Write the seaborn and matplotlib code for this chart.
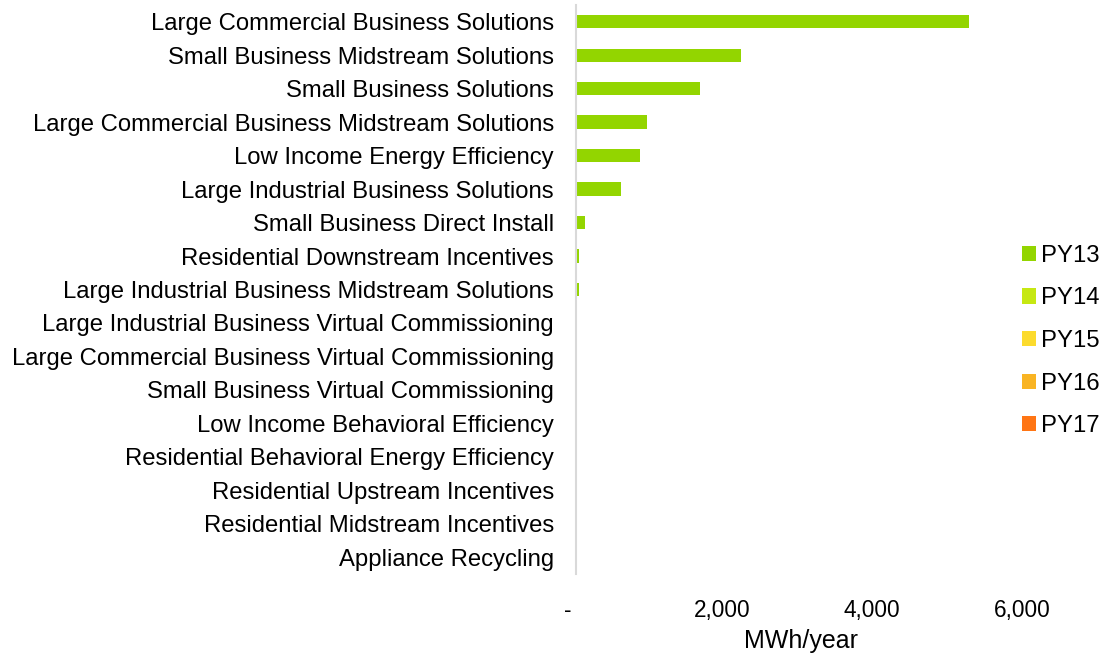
import matplotlib.pyplot as plt
import matplotlib.ticker as mticker
import matplotlib.transforms as mtransforms
import pandas as pd
import seaborn as sns

programs = [
    "Large Commercial Business Solutions",
    "Small Business Midstream Solutions",
    "Small Business Solutions",
    "Large Commercial Business Midstream Solutions",
    "Low Income Energy Efficiency",
    "Large Industrial Business Solutions",
    "Small Business Direct Install",
    "Residential Downstream Incentives",
    "Large Industrial Business Midstream Solutions",
    "Large Industrial Business Virtual Commissioning",
    "Large Commercial Business Virtual Commissioning",
    "Small Business Virtual Commissioning",
    "Low Income Behavioral Efficiency",
    "Residential Behavioral Energy Efficiency",
    "Residential Upstream Incentives",
    "Residential Midstream Incentives",
    "Appliance Recycling",
]
years = ["PY13", "PY14", "PY15", "PY16", "PY17"]

py13 = [5240, 2200, 1650, 945, 855, 605, 120, 45, 45, 0, 0, 0, 0, 0, 0, 0, 0]
py14 = [0] * 17
py15 = [0] * 17
py16 = [0] * 17
py17 = [0] * 17

colors = ["#93D500", "#C6E812", "#FCDB2D", "#F9B423", "#FF7514"]

# long table for seaborn
rows = []
for yr, vals in zip(years, [py13, py14, py15, py16, py17]):
    for p, v in zip(programs, vals):
        rows.append({"program": p, "year": yr, "value": v})
df = pd.DataFrame(rows)

sns.set_style("white")
plt.rcParams['font.family'] = ['Liberation Sans', 'DejaVu Sans']
plt.rcParams['text.color'] = 'black'
plt.rcParams['xtick.color'] = 'black'
plt.rcParams['ytick.color'] = 'black'
plt.rcParams['axes.labelcolor'] = 'black'

fig = plt.figure(figsize=(11, 6.54), dpi=100)
ax = fig.add_axes([576/1100, 80/654, 450/1100, 569/654])

sns.barplot(data=df, x="value", y="program", hue="year", order=programs,
            hue_order=years, palette=colors, saturation=1, dodge=False,
            width=0.4, linewidth=0, ax=ax)

ax.set_xlim(0, 6000)
ax.set_xticks([0, 2000, 4000, 6000])
ax.xaxis.set_major_formatter(mticker.FuncFormatter(
    lambda v, p: "-" if v == 0 else f"{v:,.0f}"))
ax.tick_params(axis='x', labelsize=16.3, length=0, pad=18)
ax.tick_params(axis='y', labelsize=17.2, length=0, pad=16)
ax.set_ylabel("")
ax.set_xlabel("MWh/year", fontsize=18, labelpad=5)

# excel-style accounting labels sit a bit left of the tick
for i, lab in enumerate(ax.get_xticklabels()):
    dx = -8 if i == 0 else -4
    lab.set_transform(lab.get_transform() +
                      mtransforms.ScaledTranslation(dx/100, 0, fig.dpi_scale_trans))

for s in ["top", "right", "bottom"]:
    ax.spines[s].set_visible(False)
ax.spines["left"].set_color("#D9D9D9")
ax.spines["left"].set_linewidth(1.5)

handles, labels = ax.get_legend_handles_labels()
ax.legend(handles, labels, loc="center left", bbox_to_anchor=(1022/1100, 1 - 341/654),
          bbox_transform=fig.transFigure, frameon=False, fontsize=17.2,
          handlelength=0.6, handleheight=0.6, handletextpad=0.2,
          labelspacing=0.86, borderaxespad=0, borderpad=0)

plt.savefig("out.png", dpi=100)
